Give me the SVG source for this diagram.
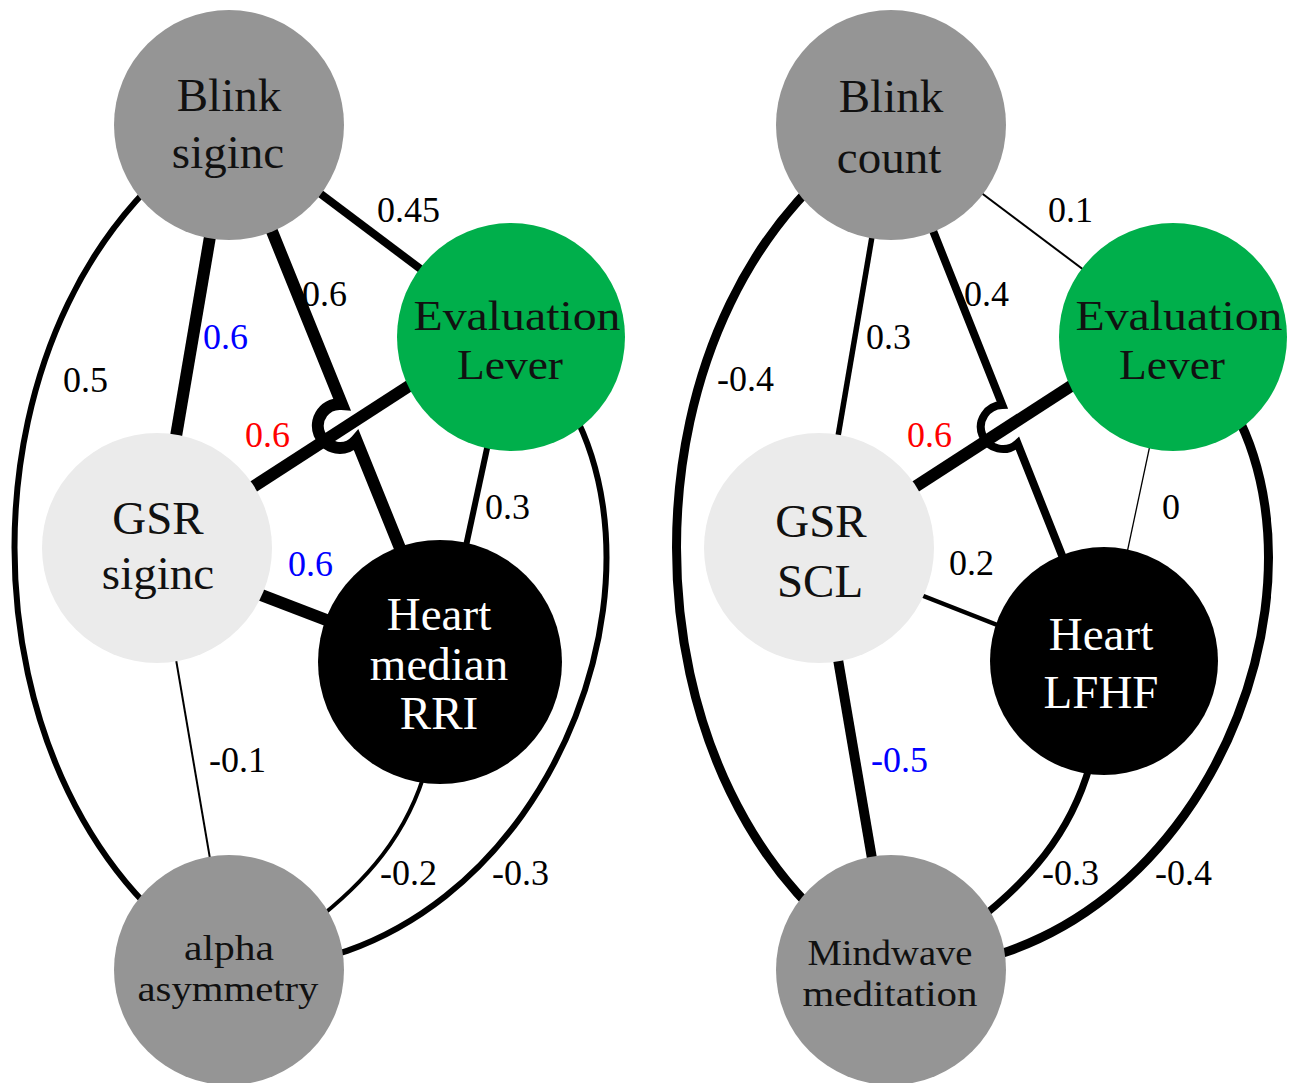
<svg xmlns="http://www.w3.org/2000/svg" width="1298" height="1083" viewBox="0 0 1298 1083">
  <style>
    .e { fill: none; stroke: #000; stroke-linecap: butt; stroke-linejoin: miter; }
    .nt { font-family: "Liberation Serif", "DejaVu Serif", serif; font-size: 47px; text-anchor: middle; fill: #111; }
    .nm { font-family: "Liberation Serif", "DejaVu Serif", serif; font-size: 43px; text-anchor: middle; fill: #111; }
    .ns { font-family: "Liberation Serif", "DejaVu Serif", serif; font-size: 36px; text-anchor: middle; fill: #111; }
    .wt { fill: #fff; }
    .lb { font-family: "Liberation Serif", "DejaVu Serif", serif; font-size: 36px; fill: #000; }
    .blue { fill: #0000ff; }
    .red { fill: #ff0000; }
    .grey { fill: #959595; }
    .light { fill: #ebebeb; }
    .green { fill: #00af4b; }
    .dark { fill: #000; }
  </style>
  <rect width="1298" height="1083" fill="#fff"/>

  <!-- connectors: stroke width follows the correlation strength -->
  <g id="connectors">
    <!-- left graph -->
    <path class="e" stroke-width="6" d="M229 125 C -57 290 -57 805 229 970"/>
    <path class="e" stroke-width="6" d="M511 337 C 720 500 568 975 229 970"/>
    <path class="e" stroke-width="4" d="M427 765 C 408 835 366 882 310 925"/>
    <line class="e" stroke-width="8" x1="229" y1="125" x2="511" y2="337"/>
    <line class="e" stroke-width="12" x1="229" y1="125" x2="157" y2="548"/>
    <!-- Blink -> Heart jumps over the Evaluation -> GSR line -->
    <path class="e" stroke-width="12" d="M229 125 L341.8 404 A22 22 0 1 0 356.4 440.4 L446 662"/>
    <line class="e" stroke-width="12" x1="157" y1="549" x2="511" y2="320"/>
    <line class="e" stroke-width="6" x1="511" y1="337" x2="441" y2="662"/>
    <line class="e" stroke-width="12" x1="157" y1="555" x2="441" y2="664"/>
    <line class="e" stroke-width="2" x1="157" y1="548" x2="229" y2="970"/>

    <!-- right graph -->
    <path class="e" stroke-width="9" d="M891 125 C 605 290 605 805 891 970"/>
    <path class="e" stroke-width="9" d="M1173 337 C 1382 500 1230 975 891 970"/>
    <path class="e" stroke-width="7" d="M1090 765 C 1070 835 1028 882 972 925"/>
    <line class="e" stroke-width="2" x1="891" y1="125" x2="1173" y2="337"/>
    <line class="e" stroke-width="5.5" x1="891" y1="125" x2="819" y2="548"/>
    <path class="e" stroke-width="8" d="M891 125 L1002.3 405 A22 22 0 1 0 1017.5 443.4 L1104 661"/>
    <line class="e" stroke-width="12" x1="819" y1="549" x2="1173" y2="320"/>
    <line class="e" stroke-width="1.3" x1="1173" y1="337" x2="1104" y2="661"/>
    <line class="e" stroke-width="4.5" x1="819" y1="555" x2="1104" y2="667"/>
    <line class="e" stroke-width="10" x1="819" y1="548" x2="891" y2="970"/>
  </g>

  <!-- left graph nodes -->
  <g id="blink-siginc">
    <circle class="grey" cx="229" cy="125" r="115"/>
    <text class="nt"><tspan x="229" y="111">Blink</tspan><tspan x="228" y="168">siginc</tspan></text>
  </g>
  <g id="evaluation-lever-left">
    <circle class="green" cx="511" cy="337" r="114"/>
    <text class="nm"><tspan x="517" y="330" textLength="207" lengthAdjust="spacingAndGlyphs">Evaluation</tspan><tspan x="510" y="379" textLength="106" lengthAdjust="spacingAndGlyphs">Lever</tspan></text>
  </g>
  <g id="gsr-siginc">
    <circle class="light" cx="157" cy="548" r="115"/>
    <text class="nt"><tspan x="158" y="534">GSR</tspan><tspan x="158" y="589">siginc</tspan></text>
  </g>
  <g id="heart-median-rri">
    <circle class="dark" cx="440" cy="662" r="122"/>
    <text class="nt wt"><tspan x="439" y="630">Heart</tspan><tspan x="439" y="680">median</tspan><tspan x="439" y="729">RRI</tspan></text>
  </g>
  <g id="alpha-asymmetry">
    <circle class="grey" cx="229" cy="970" r="115"/>
    <text class="ns"><tspan x="229" y="960" textLength="90" lengthAdjust="spacingAndGlyphs">alpha</tspan><tspan x="228" y="1001" textLength="181" lengthAdjust="spacingAndGlyphs">asymmetry</tspan></text>
  </g>

  <!-- right graph nodes -->
  <g id="blink-count">
    <circle class="grey" cx="891" cy="125" r="115"/>
    <text class="nt"><tspan x="891" y="112">Blink</tspan><tspan x="889" y="173">count</tspan></text>
  </g>
  <g id="evaluation-lever-right">
    <circle class="green" cx="1173" cy="337" r="114"/>
    <text class="nm"><tspan x="1179" y="330" textLength="207" lengthAdjust="spacingAndGlyphs">Evaluation</tspan><tspan x="1172" y="379" textLength="106" lengthAdjust="spacingAndGlyphs">Lever</tspan></text>
  </g>
  <g id="gsr-scl">
    <circle class="light" cx="819" cy="548" r="115"/>
    <text class="nt"><tspan x="821" y="537">GSR</tspan><tspan x="820" y="597">SCL</tspan></text>
  </g>
  <g id="heart-lfhf">
    <circle class="dark" cx="1104" cy="661" r="114"/>
    <text class="nt wt"><tspan x="1101" y="650">Heart</tspan><tspan x="1101" y="708">LFHF</tspan></text>
  </g>
  <g id="mindwave-meditation">
    <circle class="grey" cx="891" cy="970" r="115"/>
    <text class="ns"><tspan x="890" y="965" textLength="165" lengthAdjust="spacingAndGlyphs">Mindwave</tspan><tspan x="890" y="1006" textLength="175" lengthAdjust="spacingAndGlyphs">meditation</tspan></text>
  </g>

  <!-- edge labels -->
  <g id="labels">
    <text class="lb" x="377" y="222">0.45</text>
    <text class="lb" x="302" y="306">0.6</text>
    <text class="lb blue" x="203" y="349">0.6</text>
    <text class="lb" x="63" y="392">0.5</text>
    <text class="lb red" x="245" y="447">0.6</text>
    <text class="lb" x="485" y="519">0.3</text>
    <text class="lb blue" x="288" y="576">0.6</text>
    <text class="lb" x="209" y="772">-0.1</text>
    <text class="lb" x="380" y="885">-0.2</text>
    <text class="lb" x="492" y="885">-0.3</text>

    <text class="lb" x="1048" y="222">0.1</text>
    <text class="lb" x="964" y="306">0.4</text>
    <text class="lb" x="866" y="349">0.3</text>
    <text class="lb" x="717" y="391">-0.4</text>
    <text class="lb red" x="907" y="447">0.6</text>
    <text class="lb" x="1162" y="519">0</text>
    <text class="lb" x="949" y="575">0.2</text>
    <text class="lb blue" x="871" y="772">-0.5</text>
    <text class="lb" x="1042" y="885">-0.3</text>
    <text class="lb" x="1155" y="885">-0.4</text>
  </g>
</svg>
